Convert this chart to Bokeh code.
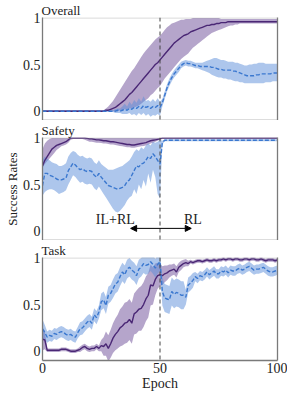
from bokeh.plotting import figure
from bokeh.layouts import column
from bokeh.models import (Range1d, FixedTicker, Span, LinearAxis, Arrow,
                          NormalHead, Label, ColumnDataSource)
from bokeh.embed import file_html
from bokeh.resources import INLINE

epochs = list(range(101))
x_ticks = [0, 50, 100]
x_tick_labels = ["0", "50", "100"]
y_ticks = [0, 0.5, 1]
y_tick_labels = ["0", "0.5", "1"]
panel_titles = ["Overall", "Safety", "Task"]

# ---------- Overall ----------
overall_ilrl_mean = [0.0]*27 + [
    0.01, 0.01, 0.02, 0.03, 0.04, 0.06, 0.08, 0.10, 0.12, 0.15,
    0.18, 0.20, 0.23, 0.26, 0.29, 0.32, 0.35, 0.38, 0.41, 0.44,
    0.47, 0.50, 0.52, 0.55, 0.58, 0.61, 0.64, 0.67, 0.70, 0.73,
    0.75, 0.77, 0.79, 0.81, 0.82, 0.83, 0.85, 0.86, 0.87, 0.88,
    0.89, 0.90, 0.91, 0.92, 0.92, 0.93, 0.93, 0.94, 0.94, 0.95,
    0.95, 0.95, 0.96, 0.96, 0.96, 0.96, 0.96, 0.96, 0.96, 0.96,
    0.96, 0.96, 0.96, 0.96, 0.96, 0.96, 0.96, 0.96, 0.96, 0.96,
    0.96, 0.96, 0.96, 0.96]
overall_ilrl_lo = [-0.005]*27 + [
    0.00, 0.00, 0.00, 0.00, 0.00, 0.00, 0.01, 0.01, 0.02, 0.02,
    0.03, 0.03, 0.04, 0.05, 0.06, 0.08, 0.10, 0.12, 0.14, 0.17,
    0.19, 0.22, 0.25, 0.27, 0.31, 0.35, 0.38, 0.41, 0.44, 0.47,
    0.50, 0.53, 0.56, 0.58, 0.60, 0.62, 0.65, 0.68, 0.70, 0.72,
    0.74, 0.76, 0.78, 0.80, 0.82, 0.84, 0.85, 0.86, 0.87, 0.88,
    0.89, 0.90, 0.91, 0.92, 0.92, 0.93, 0.93, 0.94, 0.94, 0.94,
    0.94, 0.94, 0.94, 0.94, 0.94, 0.94, 0.94, 0.94, 0.94, 0.94,
    0.94, 0.94, 0.94, 0.94]
overall_ilrl_hi = [0.01]*27 + [
    0.03, 0.05, 0.08, 0.11, 0.15, 0.19, 0.23, 0.27, 0.31, 0.35,
    0.39, 0.43, 0.46, 0.50, 0.54, 0.58, 0.62, 0.65, 0.68, 0.71,
    0.74, 0.77, 0.79, 0.81, 0.84, 0.87, 0.90, 0.92, 0.94, 0.95,
    0.96, 0.97, 0.98, 0.98, 0.99, 0.99, 0.99, 1.00, 1.00, 1.00,
    1.00, 1.00, 1.00, 1.00, 1.00, 1.00, 1.00, 1.00, 1.00, 0.99,
    0.99, 0.99, 0.99, 0.99, 0.99, 0.99, 0.99, 0.99, 0.99, 0.99,
    0.99, 0.99, 0.99, 0.99, 0.99, 0.99, 0.99, 0.99, 0.99, 0.99,
    0.99, 0.99, 0.99, 0.99]
overall_rl_mean = [0.0]*31 + [
    0.00, 0.01, 0.00, 0.01, 0.02, 0.01, 0.03, 0.02, 0.04, 0.03,
    0.05, 0.03, 0.06, 0.04, 0.05, 0.03, 0.05, 0.04, 0.06, 0.04,
    0.09, 0.17, 0.25, 0.31, 0.36, 0.40, 0.43, 0.46, 0.49, 0.51,
    0.52, 0.51, 0.51, 0.50, 0.49, 0.49, 0.48, 0.48, 0.48, 0.48,
    0.48, 0.47, 0.47, 0.46, 0.45, 0.45, 0.44, 0.44, 0.44, 0.44,
    0.43, 0.43, 0.42, 0.41, 0.40, 0.39, 0.38, 0.38, 0.38, 0.38,
    0.39, 0.39, 0.40, 0.40, 0.40, 0.40, 0.40, 0.41, 0.41, 0.41]
overall_rl_lo = [-0.01]*31 + [
    -0.02, -0.02, -0.02, -0.03, -0.03, -0.03, -0.02, -0.04, -0.03, -0.05,
    -0.02, -0.04, -0.02, -0.05, -0.03, -0.06, -0.04, -0.05, -0.03, -0.05,
    0.05, 0.13, 0.21, 0.27, 0.32, 0.36, 0.39, 0.42, 0.46, 0.48,
    0.49, 0.48, 0.48, 0.47, 0.46, 0.46, 0.45, 0.44, 0.43, 0.42,
    0.41, 0.39, 0.38, 0.37, 0.36, 0.36, 0.35, 0.35, 0.34, 0.34,
    0.33, 0.32, 0.32, 0.31, 0.31, 0.30, 0.30, 0.30, 0.30, 0.30,
    0.30, 0.30, 0.30, 0.30, 0.31, 0.31, 0.31, 0.32, 0.32, 0.32]
overall_rl_hi = [0.01]*31 + [
    0.02, 0.03, 0.03, 0.05, 0.08, 0.05, 0.10, 0.07, 0.12, 0.09,
    0.14, 0.10, 0.16, 0.11, 0.12, 0.10, 0.13, 0.10, 0.14, 0.10,
    0.13, 0.21, 0.29, 0.35, 0.40, 0.44, 0.47, 0.50, 0.53, 0.54,
    0.55, 0.54, 0.54, 0.53, 0.52, 0.52, 0.52, 0.52, 0.53, 0.54,
    0.55, 0.56, 0.57, 0.57, 0.56, 0.55, 0.55, 0.54, 0.53, 0.53,
    0.53, 0.52, 0.52, 0.51, 0.50, 0.49, 0.49, 0.50, 0.50, 0.51,
    0.51, 0.52, 0.52, 0.52, 0.51, 0.51, 0.51, 0.51, 0.51, 0.51]

# ---------- Safety ----------
safety_ilrl_mean = [
    0.70, 0.76, 0.80, 0.84, 0.88, 0.90, 0.92, 0.93, 0.94, 0.95,
    0.96, 0.98, 1.00, 1.00, 1.00, 1.00, 1.00, 1.00, 1.00, 0.995,
    0.99, 0.99, 0.985, 0.98, 0.98, 0.975, 0.97, 0.97, 0.965, 0.96,
    0.96, 0.955, 0.95, 0.945, 0.94, 0.935, 0.93, 0.93, 0.925, 0.925,
    0.93, 0.935, 0.94, 0.945, 0.95, 0.96, 0.97, 0.975, 0.98, 0.985,
    0.99] + [1.0]*50
safety_ilrl_lo = [
    0.68, 0.72, 0.75, 0.78, 0.81, 0.84, 0.87, 0.89, 0.91, 0.92,
    0.93, 0.95, 0.98, 0.99, 0.99, 0.99, 0.99, 0.99, 0.98, 0.97,
    0.96, 0.96, 0.955, 0.95, 0.95, 0.945, 0.94, 0.94, 0.935, 0.93,
    0.93, 0.925, 0.92, 0.915, 0.91, 0.905, 0.90, 0.90, 0.895, 0.895,
    0.90, 0.905, 0.91, 0.915, 0.92, 0.93, 0.94, 0.95, 0.96, 0.97,
    0.98] + [0.99]*50
safety_ilrl_hi = [
    0.88, 0.94, 0.97, 0.99] + [1.0]*97
safety_rl_mean = [
    0.49, 0.62, 0.62, 0.60, 0.59, 0.58, 0.56, 0.55, 0.55, 0.56,
    0.57, 0.65, 0.69, 0.73, 0.71, 0.68, 0.66, 0.67, 0.65, 0.64,
    0.65, 0.64, 0.60, 0.58, 0.62, 0.58, 0.55, 0.52, 0.49, 0.48,
    0.47, 0.46, 0.45, 0.46, 0.47, 0.49, 0.53, 0.55, 0.60, 0.65,
    0.70, 0.69, 0.72, 0.73, 0.76, 0.80, 0.78, 0.83, 0.80, 0.76,
    0.72, 0.95] + [0.975]*49
safety_rl_lo = [
    0.38, 0.42, 0.44, 0.45, 0.45, 0.44, 0.42, 0.40, 0.41, 0.42,
    0.44, 0.50, 0.55, 0.60, 0.58, 0.55, 0.52, 0.53, 0.51, 0.50,
    0.51, 0.50, 0.46, 0.44, 0.48, 0.44, 0.40, 0.36, 0.32, 0.28,
    0.24, 0.21, 0.20, 0.22, 0.25, 0.28, 0.33, 0.36, 0.38, 0.45,
    0.40, 0.50, 0.45, 0.55, 0.48, 0.62, 0.52, 0.66, 0.58, 0.40,
    0.35, 0.93] + [0.965]*49
safety_rl_hi = [
    0.76, 0.80, 0.78, 0.76, 0.74, 0.73, 0.72, 0.70, 0.70, 0.71,
    0.73, 0.80, 0.84, 0.86, 0.85, 0.82, 0.80, 0.81, 0.79, 0.78,
    0.79, 0.78, 0.74, 0.72, 0.76, 0.72, 0.70, 0.68, 0.66, 0.66,
    0.66, 0.67, 0.68, 0.69, 0.70, 0.72, 0.74, 0.76, 0.80, 0.85,
    0.88, 0.86, 0.90, 0.88, 0.92, 0.94, 0.92, 0.96, 0.95, 0.96,
    0.98, 0.97] + [0.985]*49

# ---------- Task ----------
task_ilrl_mean = [
    0.13, 0.12, 0.01, 0.01, 0.01, 0.01, 0.01, 0.01, 0.02, 0.02,
    0.02, 0.01, 0.00, 0.00, 0.00, 0.01, 0.02, 0.04, 0.05, 0.03,
    0.02, 0.03, 0.03, 0.05, 0.03, 0.06, 0.05, 0.08, 0.03, 0.08,
    0.14, 0.18, 0.21, 0.25, 0.27, 0.30, 0.31, 0.34, 0.30, 0.40,
    0.42, 0.45, 0.46, 0.50, 0.56, 0.60, 0.71, 0.70, 0.77, 0.81,
    0.82, 0.81, 0.83, 0.84, 0.86, 0.87, 0.88, 0.85, 0.90, 0.92,
    0.94, 0.95, 0.94, 0.96, 0.95, 0.96, 0.97, 0.97, 0.96, 0.97,
    0.98, 0.97, 0.97, 0.98, 0.97, 0.98, 0.98, 0.99, 0.98, 0.99,
    0.99, 0.98, 0.99, 0.99, 0.98, 0.98, 0.99, 0.99, 0.98, 0.99,
    0.99, 0.98, 0.98, 0.99, 0.98, 0.97, 0.98, 0.98, 0.98, 0.97,
    0.98]
task_ilrl_spread = [0.12, 0.10] + [0.02]*14 + [0.03]*9 + [
    0.06, 0.10, 0.13, 0.14, 0.15, 0.16, 0.17, 0.18, 0.20, 0.21,
    0.22, 0.22, 0.22, 0.22, 0.22, 0.23, 0.23, 0.24, 0.24, 0.24,
    0.24, 0.22, 0.20, 0.17, 0.14, 0.12, 0.10, 0.09, 0.08, 0.07,
    0.06, 0.06, 0.06, 0.05, 0.05, 0.04, 0.04, 0.03] + [0.02]*38
task_rl_mean = [
    0.24, 0.20, 0.15, 0.17, 0.16, 0.19, 0.18, 0.20, 0.21, 0.20,
    0.18, 0.17, 0.18, 0.16, 0.15, 0.20, 0.24, 0.25, 0.28, 0.31,
    0.33, 0.30, 0.39, 0.36, 0.42, 0.53, 0.55, 0.49, 0.60, 0.62,
    0.67, 0.72, 0.74, 0.80, 0.85, 0.82, 0.88, 0.90, 0.87, 0.85,
    0.81, 0.88, 0.90, 0.94, 0.92, 0.93, 0.96, 0.93, 0.89, 0.93,
    0.96, 0.64, 0.57, 0.56, 0.55, 0.64, 0.61, 0.63, 0.62, 0.60,
    0.60, 0.58, 0.71, 0.73, 0.76, 0.80, 0.78, 0.81, 0.80, 0.82,
    0.85, 0.82, 0.84, 0.86, 0.83, 0.83, 0.86, 0.85, 0.87, 0.84,
    0.87, 0.86, 0.86, 0.88, 0.89, 0.87, 0.88, 0.90, 0.91, 0.89,
    0.87, 0.88, 0.88, 0.89, 0.90, 0.88, 0.86, 0.85, 0.85, 0.86,
    0.87]
task_rl_spread = [0.10, 0.08] + [0.06]*14 + [0.07]*9 + [0.09]*5 + \
    [0.10]*21 + [0.15]*10 + [0.08]*4 + [0.05]*36

purple_line = "#4a2775"
purple_fill = "#6b4b98"
blue_line = "#3b78cf"
blue_fill = "#5b8ed9"
serif = "Liberation Serif"
gray = "#7a7a7a"

panels = [
    (overall_ilrl_mean, overall_ilrl_lo, overall_ilrl_hi,
     overall_rl_mean, overall_rl_lo, overall_rl_hi),
    (safety_ilrl_mean, safety_ilrl_lo, safety_ilrl_hi,
     safety_rl_mean, safety_rl_lo, safety_rl_hi),
    (task_ilrl_mean,
     [m - s for m, s in zip(task_ilrl_mean, task_ilrl_spread)],
     [m + s for m, s in zip(task_ilrl_mean, task_ilrl_spread)],
     task_rl_mean,
     [m - s for m, s in zip(task_rl_mean, task_rl_spread)],
     [m + s for m, s in zip(task_rl_mean, task_rl_spread)]),
]

figs = []
for i, (title, data) in enumerate(zip(panel_titles, panels)):
    pm, plo, phi, bm, blo, bhi = data
    last = i == 2
    p = figure(frame_width=235, frame_height=103,
               x_range=Range1d(0, 100), y_range=Range1d(-0.1, 1.005),
               output_backend="svg", toolbar_location=None,
               min_border_left=42, min_border_right=10,
               min_border_top=0, min_border_bottom=0,
               title=title)
    p.title.text_font = serif
    p.title.text_font_size = "13px"
    p.title.text_font_style = "normal"
    p.title.text_color = "#222222"
    p.title.standoff = 0
    p.title.offset = -1
    p.grid.visible = False
    p.outline_line_color = None
    p.background_fill_color = "white"

    src = ColumnDataSource(dict(x=epochs, pm=pm, plo=plo, phi=phi,
                                bm=bm, blo=blo, bhi=bhi))
    p.varea(x="x", y1="plo", y2="phi", source=src,
            fill_color=purple_fill, fill_alpha=0.5)
    p.varea(x="x", y1="blo", y2="bhi", source=src,
            fill_color=blue_fill, fill_alpha=0.5)
    p.line(x="x", y="pm", source=src, line_color=purple_line, line_width=1.4)
    p.line(x="x", y="bm", source=src, line_color=blue_line, line_width=1.4,
           line_dash="4 2")

    p.add_layout(Span(location=1, dimension="width", line_color="#9a9a9a",
                      line_dash="1 1", line_width=1))
    p.add_layout(Span(location=50, dimension="height", line_color="#444444",
                      line_dash="4 3", line_width=1))

    # y axis
    p.yaxis.ticker = FixedTicker(ticks=y_ticks)
    p.yaxis.major_label_overrides = {t: l for t, l in zip(y_ticks, y_tick_labels)}
    p.yaxis.major_label_text_font = serif
    p.yaxis.major_label_text_font_size = "14px"
    p.yaxis.major_label_text_color = "#222222"
    p.yaxis.major_label_standoff = 2
    p.yaxis.major_tick_out = 0
    p.yaxis.major_tick_in = 0
    p.yaxis.minor_tick_out = 0
    p.yaxis.minor_tick_in = 0
    p.yaxis.axis_line_color = gray
    p.yaxis.axis_line_width = 1.3
    if i == 1:
        p.yaxis.axis_label = "Success Rates"
        p.yaxis.axis_label_text_font = serif
        p.yaxis.axis_label_text_font_size = "13px"
        p.yaxis.axis_label_text_font_style = "normal"
        p.yaxis.axis_label_text_color = "#222222"
        p.yaxis.axis_label_standoff = 0

    # x axis
    p.xaxis.major_tick_out = 0
    p.xaxis.major_tick_in = 0
    p.xaxis.minor_tick_out = 0
    p.xaxis.minor_tick_in = 0
    p.xaxis.axis_line_color = gray
    p.xaxis.axis_line_width = 1.3
    if last:
        p.xaxis.ticker = FixedTicker(ticks=x_ticks)
        p.xaxis.major_label_overrides = {t: l for t, l in zip(x_ticks, x_tick_labels)}
        p.xaxis.major_label_text_font = serif
        p.xaxis.major_label_text_font_size = "14px"
        p.xaxis.major_label_text_color = "#222222"
        p.xaxis.major_label_standoff = 2
        p.xaxis.axis_label = "Epoch"
        p.xaxis.axis_label_text_font = serif
        p.xaxis.axis_label_text_font_size = "14px"
        p.xaxis.axis_label_text_font_style = "normal"
        p.xaxis.axis_label_text_color = "#222222"
        p.xaxis.axis_label_standoff = 0
    else:
        p.xaxis.ticker = FixedTicker(ticks=[])
        p.xaxis.major_label_standoff = 0

    # right frame edge
    ra = LinearAxis(ticker=FixedTicker(ticks=[]), axis_line_color=gray,
                    axis_line_width=1.3,
                    major_tick_out=0, major_tick_in=0, minor_tick_out=0,
                    minor_tick_in=0, major_label_standoff=0)
    p.add_layout(ra, "right")

    if i == 1:
        p.add_layout(Arrow(x_start=37.5, y_start=0.03, x_end=63.3, y_end=0.03,
                           line_color="black", line_width=1,
                           start=NormalHead(size=6, fill_color="black",
                                            line_color="black"),
                           end=NormalHead(size=6, fill_color="black",
                                          line_color="black")))
        p.add_layout(Label(x=31, y=0.13, text="IL+RL", text_align="center",
                           text_baseline="middle", text_font=serif,
                           text_font_size="14px", text_color="#222222"))
        p.add_layout(Label(x=64, y=0.13, text="RL", text_align="center",
                           text_baseline="middle", text_font=serif,
                           text_font_size="14px", text_color="#222222"))
    figs.append(p)

layout = column(*figs, spacing=0)
open("out.html", "w").write(file_html(layout, INLINE))
